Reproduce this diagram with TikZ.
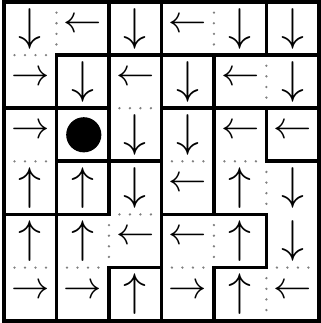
\documentclass[tikz,border=0pt]{standalone}
\usetikzlibrary{calc}
\tikzset{
  wall/.style={line width=2pt, line cap=rect},
  dotmark/.style={fill=black!50},
  varrow/.style={inner sep=0pt, font=\fontsize{23.5}{26}\selectfont},
  harrow/.style={inner sep=0pt, font=\fontsize{22}{24}\selectfont, yshift=0.06cm},
}
\begin{document}
\begin{tikzpicture}[x=1cm,y=1.012cm]
\useasboundingbox (-0.076cm,-0.044cm) rectangle (6.038cm,6.110cm);
% down arrows
\foreach \r/\c in {0/0,0/2,0/4,0/5,1/1,1/3,1/5,2/2,2/3,3/2,3/5,4/5}{
  \node[varrow] (a\r\c) at ({\c+0.5},{5.5-\r}) {$\downarrow$};
}
% up arrows
\foreach \r/\c in {3/0,3/1,3/4,4/0,4/1,4/4,5/2,5/4}{
  \node[varrow] (a\r\c) at ({\c+0.5},{5.5-\r}) {$\uparrow$};
}
% left arrows
\foreach \r/\c in {0/1,0/3,1/2,1/4,2/4,2/5,3/3,4/2,4/3,5/5}{
  \node[harrow] (a\r\c) at ({\c+0.5},{5.5-\r}) {$\leftarrow$};
}
% right arrows
\foreach \r/\c in {1/0,2/0,5/0,5/1,5/3}{
  \node[harrow] (a\r\c) at ({\c+0.5},{5.5-\r}) {$\rightarrow$};
}
\fill (1.52,3.5) circle (0.335cm);
% dotted vertical edges: row/x
\foreach \r/\k in {0/1,0/4,1/5,3/5,4/2,4/4,5/5}{
  \foreach \f in {0.2,0.4,0.6,0.8}{
    \fill[dotmark] (\k,{5-\r+\f}) circle (0.7pt);
  }
}
% dotted horizontal edges: k/col
\foreach \k/\c in {1/0,2/2,3/0,3/3,3/4,4/2,5/0,5/1,5/3,5/5}{
  \foreach \f in {0.2,0.4,0.6,0.8}{
    \fill[dotmark] ({\c+\f},{6-\k}) circle (0.7pt);
  }
}
% thick vertical walls: row/x
\foreach \r/\k in {0/2,0/3,0/5,1/1,1/2,1/3,1/4,2/1,2/2,2/3,2/4,2/5,
                   3/1,3/2,3/3,3/4,4/1,4/3,4/5,5/1,5/2,5/3,5/4}{
  \draw[wall] (\k,{5-\r}) -- (\k,{6-\r});
}
% thick horizontal walls: k/col
\foreach \k/\c in {1/1,1/2,1/3,1/4,1/5,2/0,2/1,2/3,2/4,2/5,3/1,3/2,3/5,
                   4/0,4/1,4/3,4/4,5/2,5/4}{
  \draw[wall] (\c,{6-\k}) -- ({\c+1},{6-\k});
}
\draw[wall] (0,0) rectangle (6,6);
\end{tikzpicture}
\end{document}
